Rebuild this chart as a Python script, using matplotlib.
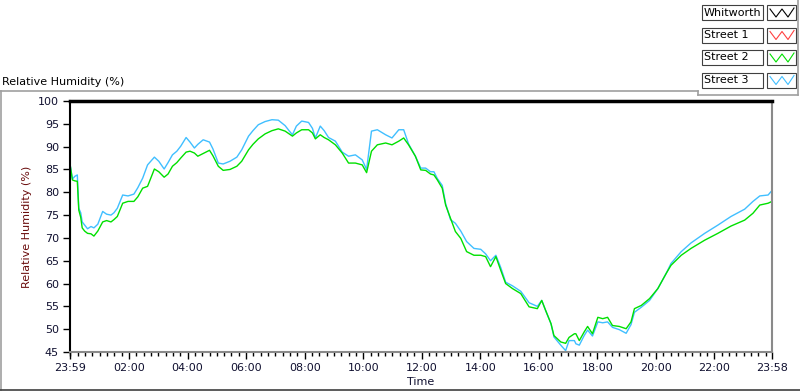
import matplotlib
matplotlib.use("Agg")
import matplotlib.pyplot as plt
from matplotlib.lines import Line2D
from matplotlib.patches import Rectangle
from matplotlib.ticker import FixedLocator, MultipleLocator

# minutes after midnight (-1 = 23:59 of the previous day)
minutes = [-1, 4, 9, 14, 17, 21, 24, 29, 35, 42, 48, 56, 66, 74, 83, 89, 96, 107, 118, 130,
           138, 148, 158, 172, 181, 192, 200, 209, 218, 226, 237, 245, 254, 261, 272, 285, 292,
           303, 313, 327, 341, 351, 365, 374, 385, 399, 413, 426, 440, 448, 455, 463, 474, 488,
           496, 502, 512, 520, 529, 543, 557, 570, 584, 598, 607, 617, 629, 646, 659, 673, 683,
           693, 707, 718, 728, 738, 745, 752, 762, 769, 779, 789, 800, 812, 827, 841, 851, 861,
           872, 882, 892, 906, 923, 940, 957, 966, 974, 985, 991, 1005, 1015, 1022, 1033, 1036,
           1043, 1053, 1060, 1070, 1081, 1091, 1101, 1111, 1125, 1139, 1149, 1156, 1170, 1187,
           1204, 1221, 1231, 1252, 1272, 1300, 1327, 1354, 1382, 1399, 1413, 1430, 1438]

street2 = [86.2, 82.7, 82.5, 82.4, 76.1, 74.5, 72.2, 71.5, 71.0, 70.9, 70.4, 71.5, 73.5, 73.8,
           73.5, 74.0, 74.7, 77.6, 78.0, 78.0, 79.0, 80.9, 81.3, 85.1, 84.5, 83.3, 84.0, 85.7,
           86.5, 87.5, 88.8, 89.0, 88.6, 87.9, 88.5, 89.2, 88.0, 85.7, 84.8, 85.0, 85.7, 86.8,
           89.3, 90.5, 91.7, 92.8, 93.5, 93.9, 93.4, 92.8, 92.3, 93.0, 93.7, 93.7, 93.0, 91.7,
           92.6, 92.0, 91.5, 90.4, 88.6, 86.4, 86.4, 86.0, 84.3, 89.0, 90.4, 90.8, 90.4, 91.2,
           91.9, 90.4, 87.9, 84.9, 84.8, 84.0, 83.8, 82.7, 80.9, 77.2, 74.3, 71.4, 69.9, 67.0,
           66.2, 66.2, 65.9, 63.7, 65.9, 62.9, 60.0, 58.9, 57.8, 54.9, 54.5, 56.3, 54.1, 51.2,
           48.6, 47.2, 46.9, 48.2, 49.0, 49.0, 47.5, 49.4, 50.6, 49.0, 52.6, 52.3, 52.6, 50.8,
           50.6, 50.1, 51.6, 54.5, 55.2, 56.7, 58.9, 62.2, 64.0, 66.2, 67.7, 69.5, 71.0, 72.6,
           73.9, 75.4, 77.2, 77.6, 78.0]

street3 = [86.2, 82.9, 83.5, 83.8, 76.5, 75.5, 73.5, 72.8, 72.0, 72.5, 72.2, 73.0, 75.8, 75.2,
           75.0, 75.5, 76.5, 79.4, 79.2, 79.6, 81.0, 83.1, 86.0, 87.7, 86.8, 85.1, 86.5, 88.2,
           89.0, 90.1, 92.0, 91.0, 89.7, 90.5, 91.5, 91.0, 89.5, 86.4, 86.2, 86.8, 87.7, 89.3,
           92.3, 93.5, 94.8, 95.5, 95.9, 95.8, 94.6, 93.5, 92.6, 94.5, 95.6, 95.3, 94.0, 91.9,
           94.5, 93.5, 92.0, 91.2, 88.8, 87.9, 88.2, 87.1, 85.0, 93.4, 93.7, 92.6, 91.9, 93.7,
           93.7, 90.6, 87.9, 85.3, 85.3, 84.5, 84.5, 83.0, 81.5, 77.5, 74.0, 73.2, 71.5, 69.2,
           67.7, 67.5, 66.5, 65.0, 66.2, 63.5, 60.3, 59.5, 58.3, 55.8, 55.0, 56.3, 54.1, 51.2,
           48.3, 46.5, 45.3, 47.5, 47.5, 46.8, 46.5, 48.6, 49.8, 48.5, 51.6, 51.4, 51.6, 50.4,
           49.9, 49.1, 51.0, 53.7, 54.8, 56.3, 58.9, 62.2, 64.4, 67.0, 68.9, 71.0, 72.8, 74.7,
           76.3, 78.0, 79.2, 79.4, 80.4]

tick_pos = [-1, 120, 240, 360, 480, 600, 720, 840, 960, 1080, 1200, 1320, 1438]
tick_labels = ["23:59", "02:00", "04:00", "06:00", "08:00", "10:00", "12:00",
               "14:00", "16:00", "18:00", "20:00", "22:00", "23:58"]

legend_names = ["Whitworth", "Street 1", "Street 2", "Street 3"]
legend_colors = ["#000000", "#ff4040", "#00e000", "#40bfff"]

W, H = 800, 392
fig = plt.figure(figsize=(W / 100, H / 100), dpi=100)
fig.patch.set_facecolor("white")


def fx(x):
    return x / W


def fy(y):
    return 1 - y / H


ax = fig.add_axes([fx(70), fy(352), fx(772) - fx(70), fy(101) - fy(352)])
ax.plot(minutes, street3, color=legend_colors[3], lw=1.0)
ax.plot(minutes, street2, color=legend_colors[2], lw=1.0)
ax.set_xlim(-1, 1438)
ax.set_ylim(45, 100)

ax.xaxis.set_major_locator(FixedLocator(tick_pos))
ax.set_xticklabels(tick_labels)
ax.xaxis.set_minor_locator(MultipleLocator(15))
ax.yaxis.set_major_locator(MultipleLocator(5))
ax.tick_params(axis="both", which="major", direction="out", length=5, width=1,
               labelsize=8, labelcolor="#101030", color="black", pad=3)
ax.tick_params(axis="x", which="minor", direction="out", length=3, width=1, color="black")

ax.spines["top"].set_linewidth(2.5)
ax.spines["left"].set_linewidth(1.5)
ax.spines["top"].set_color("black")
ax.spines["left"].set_color("black")
ax.spines["right"].set_color("#8a8a8a")
ax.spines["bottom"].set_color("#8a8a8a")
ax.spines["right"].set_linewidth(1.5)
ax.spines["bottom"].set_linewidth(1.5)

ax.set_ylabel("Relative Humidity (%)", color="#6a0c0c", fontsize=8)
ax.yaxis.set_label_coords(-0.054, 0.5)
ax.set_xlabel("Time", color="#101030", fontsize=8, labelpad=3)

fig.text(fx(2), fy(82), "Relative Humidity (%)", fontsize=8, va="center", ha="left")

# outer chart frame
frame = [((0, 91), (698, 91)), ((698, 91), (698, 95)), ((698, 95), (798, 95)),
         ((798, 0), (798, 95)), ((1, 91), (1, 390))]
for (x0, y0), (x1, y1) in frame:
    fig.add_artist(Line2D([fx(x0), fx(x1)], [fy(y0), fy(y1)], color="#a0a0a0", lw=1.2))
fig.add_artist(Line2D([fx(0), fx(800)], [fy(390), fy(390)], color="#404040", lw=1.2))

# legend
for i, (name, col) in enumerate(zip(legend_names, legend_colors)):
    top = 5 + i * 22.5
    fig.add_artist(Rectangle((fx(702), fy(top + 15)), fx(763) - fx(702), fy(top) - fy(top + 15),
                             fill=False, edgecolor="#404040", lw=0.8))
    fig.text(fx(704), fy(top + 7.5), name, fontsize=8, va="center", ha="left")
    fig.add_artist(Rectangle((fx(767), fy(top + 15)), fx(796) - fx(767), fy(top) - fy(top + 15),
                             fill=False, edgecolor="#404040", lw=0.8))
    zx = [770, 776, 782, 788, 794]
    zy = [top + 4, top + 12, top + 4, top + 12, top + 3]
    fig.add_artist(Line2D([fx(v) for v in zx], [fy(v) for v in zy], color=col, lw=0.8))

fig.savefig("out.png", dpi=100)
